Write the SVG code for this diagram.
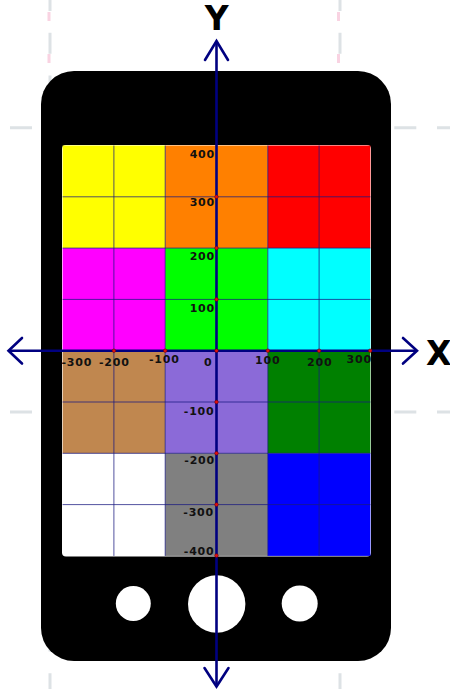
<svg xmlns="http://www.w3.org/2000/svg" width="450" height="689" viewBox="0 0 450 689">
<style>
.dg{stroke:#dde2e5;stroke-width:3;fill:none}
.dp{stroke:#f9d3e2;stroke-width:3;fill:none}
.grid{stroke:#1a1a80;stroke-width:1;stroke-opacity:0.75;fill:none}
.axis{stroke:#000080;stroke-width:2.6;fill:none}
.head{stroke:#000080;stroke-width:2.6;fill:none;stroke-linecap:round;stroke-linejoin:miter}
.tick{font-family:"DejaVu Sans",sans-serif;font-weight:bold;font-size:11px;fill:#111;letter-spacing:0.8px}
.big{font-family:"DejaVu Sans",sans-serif;font-weight:bold;font-size:33px;fill:#000}
.dot{fill:#e01010;stroke:#600;stroke-width:0.5}
</style>
<g id="background-guides">
<line class="dg" x1="0" y1="127.7" x2="450" y2="127.7" stroke-dasharray="22 20.7" stroke-dashoffset="-10"/>
<line class="dg" x1="0" y1="412" x2="450" y2="412" stroke-dasharray="22 20.7" stroke-dashoffset="-10"/>
<line class="dg" x1="50" y1="0" x2="50" y2="689" stroke-dasharray="21 21.7" stroke-dashoffset="10"/>
<line class="dg" x1="340" y1="0" x2="340" y2="689" stroke-dasharray="21 21.7" stroke-dashoffset="10"/>
<line class="dp" x1="49" y1="0" x2="49" y2="70" stroke-dasharray="9 33" stroke-dashoffset="-12"/>
<line class="dp" x1="338.5" y1="0" x2="338.5" y2="70" stroke-dasharray="9 33" stroke-dashoffset="-12"/>
</g>
<g id="phone">
<rect x="41" y="71" width="350" height="590" rx="33" fill="#000"/>
<rect x="62" y="145" width="309" height="411.5" rx="4" fill="#fff"/>
<circle cx="133.3" cy="603.5" r="17.5" fill="#fff"/>
<circle cx="216.7" cy="604" r="28.7" fill="#fff"/>
<circle cx="299.7" cy="603.5" r="18" fill="#fff"/>
</g>
<g id="screen">
<rect x="62.6" y="145.5" width="102.6" height="102.6" fill="#ffff00"/>
<rect x="165.2" y="145.5" width="102.6" height="102.6" fill="#ff8000"/>
<rect x="267.8" y="145.5" width="102.6" height="102.6" fill="#ff0000"/>
<rect x="62.6" y="248.1" width="102.6" height="102.6" fill="#ff00ff"/>
<rect x="165.2" y="248.1" width="102.6" height="102.6" fill="#00ff00"/>
<rect x="267.8" y="248.1" width="102.6" height="102.6" fill="#00ffff"/>
<rect x="62.6" y="350.7" width="102.6" height="102.6" fill="#c0874f"/>
<rect x="165.2" y="350.7" width="102.6" height="102.6" fill="#8b6ad8"/>
<rect x="267.8" y="350.7" width="102.6" height="102.6" fill="#008000"/>
<rect x="165.2" y="453.3" width="102.6" height="102.6" fill="#808080"/>
<rect x="267.8" y="453.3" width="102.6" height="102.6" fill="#0000ff"/>
</g>
<g id="grid">
<path class="grid" d="M113.9 145.5V555.9M165.2 145.5V555.9M216.5 145.5V555.9M267.8 145.5V555.9M319.1 145.5V555.9M62.6 196.8H370.4M62.6 248.1H370.4M62.6 299.4H370.4M62.6 402H370.4M62.6 453.3H370.4M62.6 504.6H370.4"/>
</g>
<g id="connectors">
<line class="axis" x1="9" y1="350.7" x2="416.5" y2="350.7"/>
<line class="axis" x1="216.5" y1="41.5" x2="216.5" y2="685.5"/>
<path class="head" d="M22 338L8.5 350.7L22 363.5"/>
<path class="head" d="M403 338L417 350.7L403 363.5"/>
<path class="head" d="M205 60L216.5 41L228 60"/>
<path class="head" d="M204.5 668L216.5 686.5L228.5 668"/>
</g>
<g id="ticks">
<circle class="dot" cx="113.9" cy="350.7" r="1.8"/>
<circle class="dot" cx="165.2" cy="350.7" r="1.8"/>
<circle class="dot" cx="216.5" cy="350.7" r="1.8"/>
<circle class="dot" cx="267.8" cy="350.7" r="1.8"/>
<circle class="dot" cx="319.1" cy="350.7" r="1.8"/>
<circle class="dot" cx="370.2" cy="350.7" r="1.8"/>
<circle class="dot" cx="216.5" cy="196.8" r="1.8"/>
<circle class="dot" cx="216.5" cy="248.1" r="1.8"/>
<circle class="dot" cx="216.5" cy="299.4" r="1.8"/>
<circle class="dot" cx="216.5" cy="402" r="1.8"/>
<circle class="dot" cx="216.5" cy="453.3" r="1.8"/>
<circle class="dot" cx="216.5" cy="504.6" r="1.8"/>
<circle class="dot" cx="216.5" cy="555.6" r="1.8"/>
</g>
<g id="labels">
<text class="tick" x="215" y="158" text-anchor="end">400</text>
<text class="tick" x="215" y="206" text-anchor="end">300</text>
<text class="tick" x="215" y="260" text-anchor="end">200</text>
<text class="tick" x="215" y="311.5" text-anchor="end">100</text>
<text class="tick" x="214.5" y="414.5" text-anchor="end">-100</text>
<text class="tick" x="215" y="463.5" text-anchor="end">-200</text>
<text class="tick" x="214" y="516" text-anchor="end">-300</text>
<text class="tick" x="214.5" y="555" text-anchor="end">-400</text>
<text class="tick" x="61.5" y="366">-300</text>
<text class="tick" x="99" y="366">-200</text>
<text class="tick" x="149" y="363">-100</text>
<text class="tick" x="204" y="366">0</text>
<text class="tick" x="255" y="364">100</text>
<text class="tick" x="307" y="366">200</text>
<text class="tick" x="346.5" y="363">300</text>
<text class="big" x="216.7" y="30" text-anchor="middle">Y</text>
<text class="big" x="426" y="365">X</text>
</g>
</svg>
